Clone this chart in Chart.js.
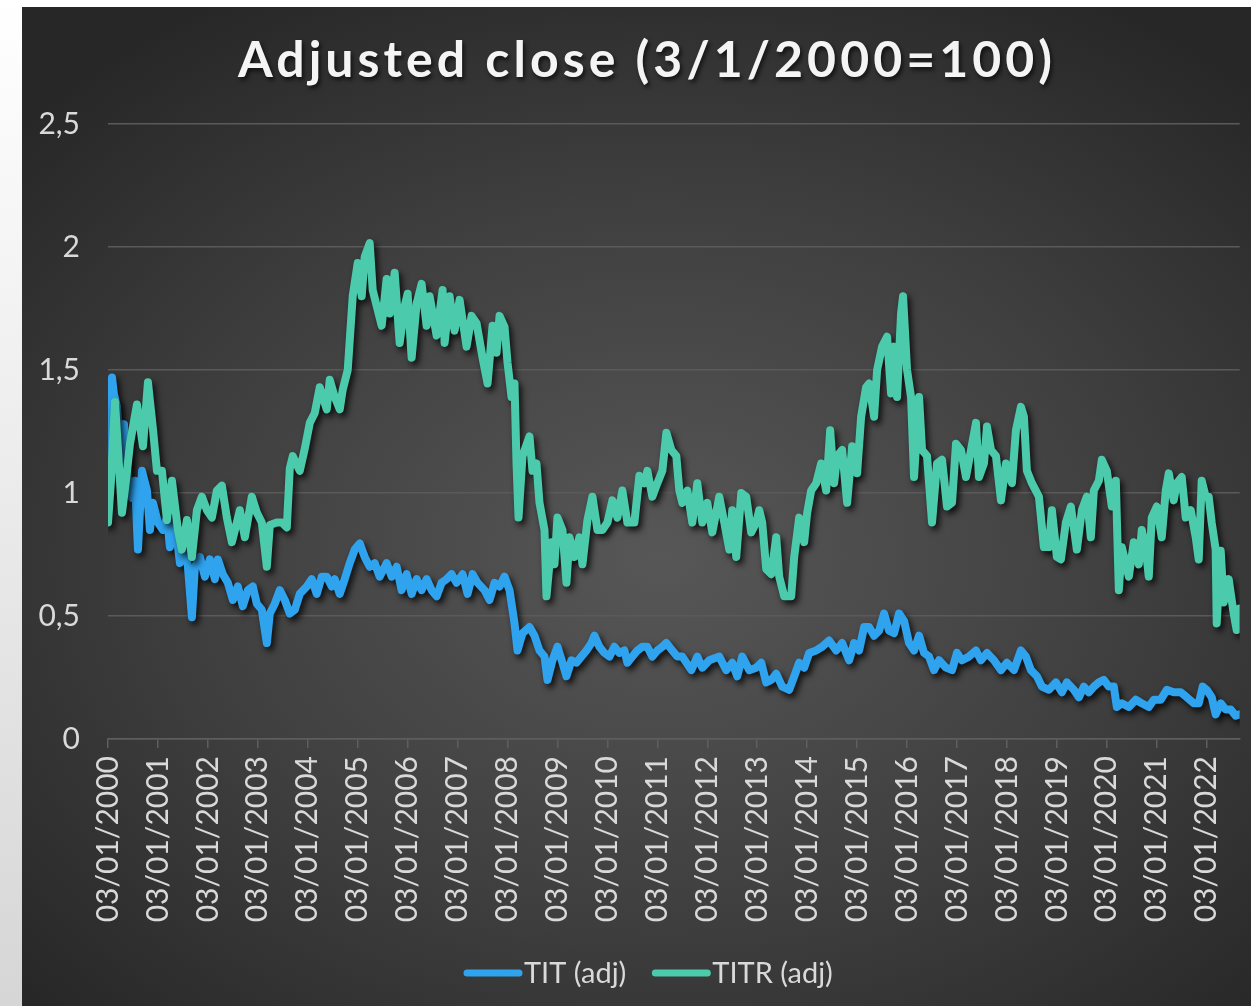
<!DOCTYPE html>
<html><head><meta charset="utf-8">
<script src="https://cdn.jsdelivr.net/npm/chart.js@4.4.0/dist/chart.umd.min.js"></script>
<style>
html,body{margin:0;padding:0;width:1251px;height:1006px;overflow:hidden;background:linear-gradient(#ffffff,#d6d6d6);}
#bg{position:absolute;left:22px;top:7px;width:1229px;height:999px;background:radial-gradient(ellipse 70% 65% at 52% 55%, #575757 0%, #3f3f3f 55%, #272727 100%);}
#wrap{position:absolute;left:0;top:0;width:1251px;height:1006px;}
</style></head><body><div id="bg"></div><div id="wrap"><canvas id="c" width="1251" height="1006"></canvas></div>
<script>
const titleText = 'Adjusted close (3/1/2000=100)';
const seriesNames = ['TIT (adj)', 'TITR (adj)'];
const seriesColors = ['#2FA3EE', '#4BCBAB'];
const xTickYears = [2000,2001,2002,2003,2004,2005,2006,2007,2008,2009,2010,2011,2012,2013,2014,2015,2016,2017,2018,2019,2020,2021,2022];
const xTickLabels = ['03/01/2000','03/01/2001','03/01/2002','03/01/2003','03/01/2004','03/01/2005','03/01/2006','03/01/2007','03/01/2008','03/01/2009','03/01/2010','03/01/2011','03/01/2012','03/01/2013','03/01/2014','03/01/2015','03/01/2016','03/01/2017','03/01/2018','03/01/2019','03/01/2020','03/01/2021','03/01/2022'];
const yTickValues = [0,0.5,1,1.5,2,2.5];
const yTickLabels = ['0','0,5','1','1,5','2','2,5'];

// TITR (adj)
const titrDates = [2000.00,2000.06,2000.14,2000.28,2000.36,2000.44,2000.58,2000.70,2000.80,2000.90,2000.98,2001.08,2001.18,2001.28,2001.40,2001.48,2001.58,2001.68,2001.78,2001.88,2001.98,2002.08,2002.18,2002.28,2002.38,2002.48,2002.58,2002.64,2002.74,2002.88,2002.98,2003.08,2003.18,2003.24,2003.38,2003.48,2003.58,2003.64,2003.70,2003.84,2003.94,2004.04,2004.14,2004.24,2004.38,2004.44,2004.54,2004.64,2004.70,2004.80,2004.90,2005.00,2005.08,2005.14,2005.24,2005.30,2005.38,2005.48,2005.58,2005.64,2005.74,2005.84,2005.94,2006.00,2006.08,2006.18,2006.28,2006.38,2006.44,2006.58,2006.70,2006.74,2006.84,2006.94,2007.04,2007.18,2007.28,2007.38,2007.50,2007.60,2007.70,2007.78,2007.84,2007.94,2008.00,2008.08,2008.14,2008.18,2008.22,2008.30,2008.44,2008.50,2008.58,2008.64,2008.74,2008.78,2008.88,2008.94,2009.00,2009.10,2009.18,2009.24,2009.34,2009.44,2009.50,2009.60,2009.70,2009.80,2009.90,2010.00,2010.10,2010.20,2010.30,2010.40,2010.54,2010.64,2010.74,2010.80,2010.90,2011.00,2011.10,2011.18,2011.28,2011.38,2011.44,2011.50,2011.60,2011.70,2011.80,2011.90,2012.00,2012.10,2012.24,2012.34,2012.44,2012.50,2012.58,2012.68,2012.78,2012.88,2012.98,2013.04,2013.10,2013.18,2013.28,2013.38,2013.44,2013.54,2013.68,2013.74,2013.84,2013.94,2014.00,2014.08,2014.18,2014.28,2014.38,2014.46,2014.54,2014.60,2014.70,2014.80,2014.90,2015.00,2015.08,2015.18,2015.24,2015.34,2015.40,2015.50,2015.60,2015.68,2015.74,2015.80,2015.88,2015.92,2016.00,2016.08,2016.14,2016.24,2016.30,2016.40,2016.50,2016.60,2016.70,2016.80,2016.90,2016.98,2017.08,2017.18,2017.28,2017.38,2017.44,2017.54,2017.60,2017.68,2017.78,2017.88,2017.98,2018.10,2018.18,2018.28,2018.34,2018.40,2018.50,2018.64,2018.74,2018.84,2018.90,2019.00,2019.08,2019.18,2019.28,2019.40,2019.50,2019.60,2019.68,2019.74,2019.84,2019.90,2020.00,2020.10,2020.18,2020.24,2020.30,2020.44,2020.54,2020.64,2020.70,2020.78,2020.84,2020.90,2021.00,2021.10,2021.18,2021.24,2021.34,2021.40,2021.50,2021.58,2021.68,2021.78,2021.84,2021.90,2021.98,2022.04,2022.10,2022.18,2022.20,2022.28,2022.34,2022.44,2022.54,2022.60,2022.66];
const titrValues = [0.88,1.05,1.37,0.92,1.05,1.20,1.36,1.19,1.45,1.26,1.09,1.09,0.89,1.05,0.85,0.77,0.89,0.74,0.93,0.985,0.93,0.90,1.01,1.03,0.90,0.80,0.88,0.93,0.82,0.985,0.92,0.88,0.70,0.87,0.88,0.88,0.86,1.10,1.15,1.09,1.18,1.285,1.325,1.43,1.34,1.46,1.39,1.34,1.42,1.50,1.80,1.935,1.80,1.96,2.016,1.825,1.76,1.68,1.87,1.73,1.895,1.61,1.76,1.81,1.55,1.77,1.85,1.68,1.80,1.64,1.825,1.61,1.80,1.66,1.785,1.595,1.72,1.69,1.55,1.445,1.68,1.57,1.72,1.675,1.53,1.39,1.445,1.12,0.90,1.15,1.23,1.09,1.12,0.96,0.85,0.58,0.80,0.71,0.90,0.85,0.635,0.82,0.74,0.82,0.71,0.89,0.985,0.85,0.85,0.88,0.97,0.90,1.01,0.88,0.88,1.07,1.04,1.09,0.985,1.04,1.09,1.245,1.175,1.15,1.01,0.96,1.01,0.88,1.04,0.88,0.96,0.84,0.985,0.88,0.77,0.93,0.74,1.00,0.985,0.84,0.88,0.93,0.88,0.69,0.67,0.82,0.66,0.58,0.58,0.74,0.90,0.80,0.92,1.01,1.04,1.12,1.01,1.255,1.04,1.15,1.175,0.96,1.19,1.08,1.31,1.43,1.445,1.31,1.50,1.595,1.635,1.405,1.595,1.39,1.73,1.80,1.50,1.39,1.065,1.39,1.175,1.15,0.88,1.12,1.135,0.945,0.96,1.20,1.175,1.065,1.175,1.285,1.065,1.12,1.27,1.175,1.15,0.97,1.12,1.04,1.255,1.35,1.31,1.09,1.04,0.985,0.78,0.78,0.93,0.74,0.73,0.88,0.945,0.77,0.93,0.985,0.82,1.01,1.05,1.135,1.09,0.945,1.05,0.605,0.78,0.66,0.80,0.71,0.85,0.77,0.66,0.90,0.945,0.82,1.01,1.08,0.97,1.04,1.065,0.90,0.93,0.82,0.73,1.05,0.985,0.985,0.88,0.77,0.47,0.765,0.555,0.65,0.51,0.443,0.53];

// TIT (adj)
const titDates = [2000.00,2000.04,2000.08,2000.12,2000.18,2000.24,2000.32,2000.40,2000.48,2000.54,2000.60,2000.68,2000.78,2000.84,2000.90,2001.00,2001.10,2001.18,2001.24,2001.34,2001.44,2001.54,2001.60,2001.68,2001.74,2001.84,2001.94,2002.04,2002.14,2002.20,2002.30,2002.40,2002.50,2002.60,2002.70,2002.80,2002.90,2002.98,2003.08,2003.18,2003.24,2003.34,2003.44,2003.54,2003.64,2003.74,2003.84,2003.98,2004.08,2004.18,2004.28,2004.38,2004.48,2004.54,2004.64,2004.74,2004.84,2004.94,2005.04,2005.14,2005.24,2005.34,2005.44,2005.58,2005.68,2005.78,2005.88,2005.98,2006.08,2006.18,2006.28,2006.38,2006.48,2006.58,2006.68,2006.78,2006.88,2006.98,2007.10,2007.20,2007.30,2007.40,2007.54,2007.64,2007.74,2007.84,2007.94,2008.04,2008.14,2008.20,2008.30,2008.44,2008.54,2008.64,2008.74,2008.80,2008.90,2009.00,2009.10,2009.18,2009.28,2009.38,2009.48,2009.58,2009.68,2009.74,2009.84,2009.94,2010.04,2010.14,2010.24,2010.34,2010.40,2010.50,2010.60,2010.70,2010.80,2010.90,2011.00,2011.10,2011.18,2011.30,2011.40,2011.50,2011.68,2011.80,2011.90,2012.04,2012.24,2012.38,2012.50,2012.60,2012.70,2012.84,2012.98,2013.08,2013.18,2013.28,2013.38,2013.50,2013.64,2013.74,2013.84,2013.94,2014.04,2014.18,2014.30,2014.44,2014.58,2014.70,2014.84,2014.94,2015.04,2015.14,2015.24,2015.34,2015.44,2015.54,2015.64,2015.74,2015.84,2015.94,2016.04,2016.14,2016.24,2016.34,2016.44,2016.54,2016.64,2016.78,2016.90,2017.00,2017.10,2017.24,2017.38,2017.48,2017.60,2017.74,2017.88,2018.00,2018.14,2018.28,2018.38,2018.48,2018.60,2018.70,2018.84,2018.98,2019.10,2019.20,2019.34,2019.44,2019.54,2019.64,2019.74,2019.84,2019.94,2020.04,2020.14,2020.20,2020.30,2020.44,2020.58,2020.70,2020.84,2020.94,2021.08,2021.20,2021.34,2021.48,2021.60,2021.74,2021.84,2021.92,2022.00,2022.10,2022.18,2022.28,2022.38,2022.48,2022.58,2022.66];
const titValues = [1.00,1.30,1.47,1.40,1.35,1.15,1.28,1.05,0.98,1.05,0.77,1.09,1.01,0.85,0.96,0.88,0.85,0.90,0.78,0.89,0.715,0.80,0.70,0.495,0.70,0.74,0.66,0.73,0.65,0.73,0.67,0.635,0.565,0.62,0.54,0.605,0.62,0.55,0.525,0.39,0.51,0.55,0.605,0.565,0.51,0.525,0.59,0.62,0.65,0.59,0.66,0.66,0.62,0.65,0.59,0.65,0.715,0.77,0.795,0.74,0.70,0.715,0.66,0.715,0.66,0.70,0.605,0.67,0.59,0.65,0.605,0.65,0.605,0.58,0.635,0.65,0.67,0.635,0.67,0.59,0.67,0.635,0.605,0.565,0.635,0.62,0.66,0.605,0.47,0.36,0.43,0.455,0.42,0.36,0.335,0.24,0.32,0.375,0.31,0.255,0.32,0.31,0.335,0.36,0.39,0.42,0.375,0.35,0.335,0.375,0.35,0.36,0.31,0.335,0.36,0.375,0.375,0.335,0.36,0.375,0.39,0.36,0.335,0.335,0.28,0.335,0.29,0.32,0.335,0.28,0.31,0.255,0.335,0.28,0.29,0.31,0.23,0.24,0.265,0.213,0.20,0.255,0.31,0.29,0.35,0.36,0.375,0.40,0.36,0.39,0.32,0.39,0.36,0.455,0.455,0.42,0.44,0.51,0.44,0.43,0.51,0.48,0.39,0.36,0.42,0.35,0.335,0.28,0.32,0.29,0.28,0.35,0.32,0.335,0.36,0.32,0.35,0.32,0.28,0.31,0.28,0.36,0.335,0.28,0.255,0.213,0.20,0.23,0.19,0.23,0.20,0.17,0.213,0.19,0.213,0.23,0.24,0.213,0.213,0.13,0.145,0.13,0.16,0.145,0.13,0.16,0.16,0.20,0.19,0.19,0.17,0.145,0.145,0.213,0.20,0.17,0.10,0.145,0.12,0.12,0.095,0.10];

const toPoints = (xs, ys) => xs.map((x, i) => ({x: x, y: ys[i]}));

const TXT = '#d9d9d9';
const FONT = 'Lato';

const shadowPlugin = {
  id: 'lineShadow',
  beforeDatasetDraw(chart) {
    const c = chart.ctx; c.save();
    c.shadowColor = 'rgba(0,0,0,0.8)'; c.shadowBlur = 6; c.shadowOffsetX = 3; c.shadowOffsetY = 4;
  },
  afterDatasetDraw(chart) { chart.ctx.restore(); }
};

const titlePlugin = {
  id: 'spacedTitle',
  afterDraw(chart) {
    const c = chart.ctx; c.save();
    c.font = 'bold 50px ' + FONT;
    c.letterSpacing = '0px';
    const w0 = c.measureText(titleText).width;
    const sp = Math.max(0, (814 - w0) / (titleText.length - 1));
    c.letterSpacing = sp.toFixed(2) + 'px';
    c.textAlign = 'left'; c.textBaseline = 'alphabetic';
    c.shadowColor = 'rgba(0,0,0,0.65)'; c.shadowBlur = 4; c.shadowOffsetX = 2; c.shadowOffsetY = 3;
    c.fillStyle = '#f4f4f4';
    c.fillText(titleText, 238, 77);
    c.restore();
  }
};

// Legend drawn in the canvas: line sample + label for each series
const legendPlugin = {
  id: 'lineLegend',
  afterDraw(chart) {
    const c = chart.ctx; c.save();
    c.font = '29px ' + FONT;
    c.textAlign = 'left'; c.textBaseline = 'alphabetic';
    let x = 467;
    const yLine = 973, yText = 983, lineLen = 52;
    chart.data.datasets.forEach((ds, i) => {
      c.strokeStyle = ds.borderColor; c.lineWidth = 7; c.lineCap = 'round';
      c.beginPath(); c.moveTo(x, yLine); c.lineTo(x + lineLen, yLine); c.stroke();
      x += lineLen + 5;
      c.fillStyle = TXT;
      c.fillText(ds.label, x, yText);
      x += c.measureText(ds.label).width + 29;
    });
    c.restore();
  }
};

function build() {
  new Chart(document.getElementById('c'), {
    type: 'line',
    data: {
      datasets: [
        {label: seriesNames[0], data: toPoints(titDates, titValues), borderColor: seriesColors[0], backgroundColor: seriesColors[0], borderWidth: 8, pointRadius: 0, tension: 0, borderJoinStyle: 'round', borderCapStyle: 'round', order: 2},
        {label: seriesNames[1], data: toPoints(titrDates, titrValues), borderColor: seriesColors[1], backgroundColor: seriesColors[1], borderWidth: 8, pointRadius: 0, tension: 0, borderJoinStyle: 'round', borderCapStyle: 'round', order: 1}
      ]
    },
    options: {
      responsive: false, animation: false, devicePixelRatio: 1,
      layout: {padding: {left: 22, right: 10, top: 124, bottom: 62}},
      plugins: {title: {display: false}, tooltip: {enabled: false}, legend: {display: false}},
      scales: {
        x: {
          type: 'linear', min: 2000, max: 2022.66,
          afterBuildTicks(s) { s.ticks = xTickYears.map(v => ({value: v})); },
          afterFit(s) { s.height = 205; },
          ticks: {
            autoSkip: false, minRotation: 90, maxRotation: 90, padding: 8, color: TXT,
            font: {family: FONT, size: 30},
            callback: (v) => xTickLabels[xTickYears.indexOf(v)]
          },
          grid: {drawOnChartArea: false, drawTicks: true, tickLength: 9, color: '#5e5e5e', lineWidth: 1.5},
          border: {color: '#5e5e5e', width: 1.5}
        },
        y: {
          min: 0, max: 2.5,
          afterBuildTicks(s) { s.ticks = yTickValues.map(v => ({value: v})); },
          afterFit(s) { s.width = 86; },
          ticks: {padding: 28, color: TXT, font: {family: FONT, size: 30},
            callback: (v) => yTickLabels[yTickValues.indexOf(v)]},
          grid: {drawTicks: false, color: '#5a5a5a', lineWidth: 1.5},
          border: {display: false}
        }
      }
    },
    plugins: [shadowPlugin, titlePlugin, legendPlugin]
  });
}
const go = () => build();
if (document.fonts && document.fonts.load) {
  Promise.all([document.fonts.load('30px Lato'), document.fonts.load('bold 50px Lato')]).then(go, go);
} else { go(); }
</script></body></html>
